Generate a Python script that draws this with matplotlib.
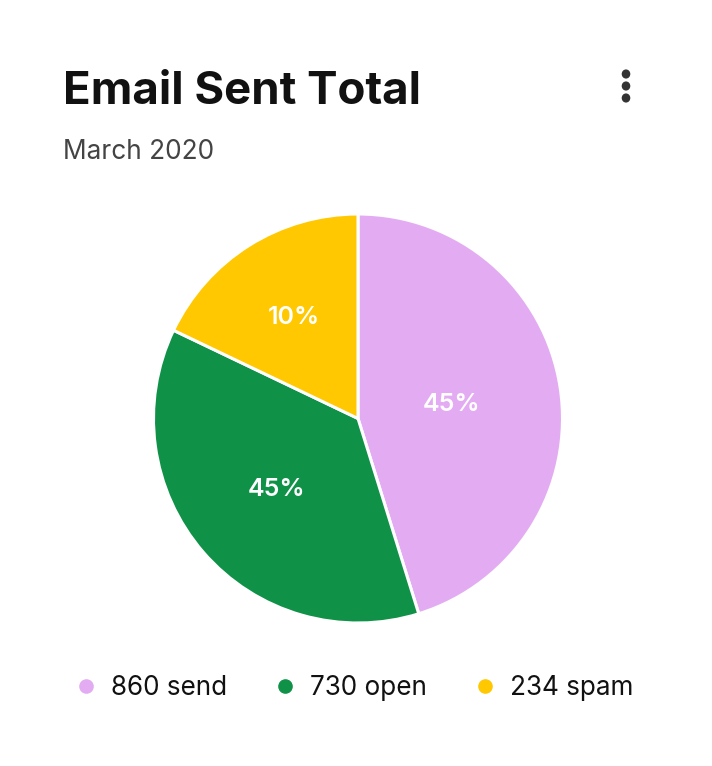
import numpy as np
import matplotlib
matplotlib.use("Agg")
import matplotlib.pyplot as plt
from matplotlib.lines import Line2D

# ---- data ----
categories = ["send", "open", "spam"]
legend_values = [860, 730, 234]
slice_shares = [45.2, 36.9, 17.9]          # slice sizes
slice_labels = ["45%", "45%", "10%"]        # labels as printed on the chart
colors = ["#E3ACF2", "#0F9247", "#FFC800"]
title = "Email Sent Total"
subtitle = "March 2020"

plt.rcParams['font.family'] = ['Inter', 'DejaVu Sans']

W, H = 712, 766
fig = plt.figure(figsize=(W / 100, H / 100), dpi=100)
fig.patch.set_facecolor("white")

cx, cy, r = 358, 418.5, 204.5
ax = fig.add_axes([(cx - r) / W, (H - cy - r) / H, 2 * r / W, 2 * r / H])
wedges, _ = ax.pie(slice_shares, colors=colors, startangle=90, counterclock=False,
                   radius=1.0, wedgeprops=dict(edgecolor="white", linewidth=2.2))
ax.set_xlim(-1, 1)
ax.set_ylim(-1, 1)
ax.set_aspect("equal")
ax.axis("off")

# labels near the centroid of each wedge
for w, lab in zip(wedges, slice_labels):
    t1, t2 = np.deg2rad(w.theta1), np.deg2rad(w.theta2)
    half = abs(t2 - t1) / 2
    mid = (t1 + t2) / 2
    d = min(2 * np.sin(half) / (3 * half), 0.585)
    ax.text(d * np.cos(mid), d * np.sin(mid), lab, ha="center", va="center",
            color="white", fontsize=18, fontweight="semibold")

# title / subtitle
fig.text(63 / W, 1 - 92 / H, title, fontsize=32.8, fontweight="bold", color="#111111",
         ha="left", va="center")
fig.text(63 / W, 1 - 152 / H, subtitle, fontsize=18.9, color="#444444",
         ha="left", va="center")

# kebab menu dots
for yy in (74, 86, 98):
    fig.add_artist(matplotlib.patches.Circle((626 / W, 1 - yy / H), 3.6 / W,
                   transform=fig.transFigure, color="#333333"))

handles = [Line2D([], [], marker="o", linestyle="none", markersize=9.5,
                  markerfacecolor=c, markeredgecolor=c) for c in colors]
labels = [f"{v} {n}" for v, n in zip(legend_values, categories)]
fig.legend(handles, labels, loc="center", bbox_to_anchor=(353 / W, 1 - 688 / H), ncol=3,
           frameon=False, fontsize=18.8, handletextpad=0.45, columnspacing=1.72,
           handlelength=1.0, labelcolor="#111111")

fig.savefig("out.png", dpi=100, facecolor="white")
